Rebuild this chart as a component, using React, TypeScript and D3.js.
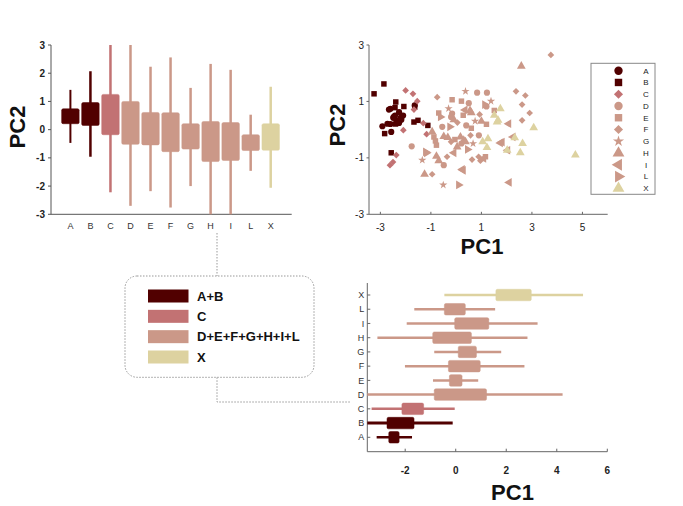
import React from 'react';
import * as d3 from 'd3';

const categories = ['A', 'B', 'C', 'D', 'E', 'F', 'G', 'H', 'I', 'L', 'X'];
const categoryGroup = [0, 0, 1, 2, 2, 2, 2, 2, 2, 2, 3];
const categoryShape = ['circle', 'square', 'diamond', 'circle', 'square', 'diamond', 'star', 'up', 'left', 'right', 'up'];

const groupLabels = ['A+B', 'C', 'D+E+F+G+H+I+L', 'X'];
const groupColors = ['#510000', '#c27273', '#cb9888', '#ddd2a0'];

// PC2 box statistics (vertical boxplot)
const pc2Low = [-0.47, -0.96, -2.22, -2.7, -2.18, -2.76, -2.0, -3.0, -3.0, -1.46, -2.06];
const pc2Q1 = [0.21, 0.15, -0.18, -0.52, -0.54, -0.78, -0.69, -1.13, -1.09, -0.74, -0.73];
const pc2Q3 = [0.74, 0.96, 1.25, 1.0, 0.61, 0.6, 0.21, 0.29, 0.25, -0.18, 0.21];
const pc2High = [1.41, 2.07, 3.0, 3.0, 2.23, 2.56, 1.48, 2.33, 2.12, 0.53, 1.52];

// PC1 box statistics (horizontal boxplot)
const pc1Low = [-3.13, -3.5, -3.33, -3.5, -0.9, -2.01, -0.85, -3.1, -1.94, -1.64, -0.45];
const pc1Q1 = [-2.65, -2.72, -2.13, -0.85, -0.25, -0.29, 0.1, -0.91, -0.04, -0.45, 1.59];
const pc1Q3 = [-2.24, -1.65, -1.27, 1.22, 0.25, 0.97, 0.82, 0.62, 1.31, 0.38, 2.99];
const pc1High = [-1.73, -0.12, -0.04, 4.23, 0.89, 2.72, 1.8, 2.84, 3.24, 1.56, 5.04];

// Scatter points [PC1, PC2] per category
const scatterA = [[-2.92, 0.12], [-2.66, 0.71], [-2.6, 0.74], [-2.72, 0.21], [-2.49, 0.42], [-2.42, 0.5], [-2.26, 0.62], [-2.2, 0.42], [-2.26, 0.24], [-2.57, -0.08], [-2.6, 0.2], [-2.17, 0.35], [-2.1, 0.5], [-1.64, 0.86], [-2.35, 0.33], [-2.47, 0.45]];
const scatterB = [[-3.25, 1.27], [-2.86, 1.62], [-2.39, 0.98], [-2.07, 0.82], [-2.42, 0.78], [-1.64, 0.8], [-1.67, 0.27], [-1.51, 0.33], [-1.12, 0.15], [-2.83, -0.14], [-2.57, -0.82], [-2.4, 0.2]];
const scatterC = [[-2.0, 1.39], [-1.71, 1.27], [-1.54, 1.01], [-1.67, 0.71], [-2.09, -0.02], [-1.3, 0.23], [-1.17, -0.16], [-2.37, -0.9], [-2.62, -1.26], [-2.5, -1.15]];
const scatterD = [[0.83, 1.31], [1.22, 1.31], [1.2, 0.82], [-1.76, -0.59], [-0.16, 0.57], [-0.2, 0.45], [0.5, 0.94], [0.21, -0.49], [-0.49, -1.26], [0.4, 0.15], [0.9, -0.2], [-0.55, 0.1]];
const scatterE = [[-0.69, 0.59], [-0.16, 1.06], [0.21, 1.01], [1.51, 0.68], [1.2, 0.19], [-0.88, -0.26], [-0.82, -0.4], [-0.78, -0.55], [-0.05, -0.35], [0.28, 0.51], [1.16, -0.96], [0.6, 0.05]];
const scatterF = [[-0.75, 1.15], [0.93, 0.54], [2.37, 1.36], [2.74, 1.21], [2.61, 0.89], [2.91, 0.59], [2.61, 0.33], [3.75, 2.65], [-0.2, -0.43], [0.57, -0.2], [-0.36, -0.96], [0.63, -1.06], [0.96, -1.1], [-0.95, -1.58], [0.89, -0.96], [0.05, 0.25]];
const scatterG = [[0.37, 1.36], [1.38, 1.01], [-1.34, -1.08], [-0.51, -1.96], [0.67, -0.49], [-0.3, 0.75], [0.75, 0.3]];
const scatterH = [[2.58, 2.25], [0.55, 0.68], [0.6, 0.6], [-0.09, 0.35], [-0.95, -0.08], [-0.49, -0.24], [-0.33, -0.28], [0.04, -0.61], [0.17, -0.26], [0.3, -0.38], [-0.78, -0.94], [-0.69, -1.1], [-1.25, -1.58], [0.37, -0.43], [1.0, 0.3]];
const scatterI = [[1.75, -0.47], [2.04, -0.73], [-0.09, -0.82], [0.24, -1.41], [0.28, -1.44], [2.1, -1.87], [1.09, -1.02], [1.82, -0.44], [2.25, -0.26], [2.08, 0.21], [0.35, 0.7]];
const scatterL = [[1.13, 0.89], [-1.21, -0.79], [-1.17, -0.82], [0.1, -1.96], [-0.62, 0.45], [0.45, -0.7], [-0.25, 0.1]];
const scatterX = [[1.75, 0.74], [1.51, 0.51], [1.66, 0.33], [1.62, 0.27], [3.07, 0.07], [2.32, -0.29], [1.05, -0.43], [1.26, -0.32], [1.22, -0.63], [2.02, -0.73], [2.63, -0.49], [2.54, -0.82], [4.72, -0.9]];
const scatterData = [scatterA, scatterB, scatterC, scatterD, scatterE, scatterF, scatterG, scatterH, scatterI, scatterL, scatterX];

const pc2Ticks = [-3, -2, -1, 0, 1, 2, 3];
const scatterXTicks = [-3, -1, 1, 3, 5];
const scatterYTicks = [-3, -1, 1, 3];
const pc1Ticks = [-2, 0, 2, 4, 6];

const FONT = '"Liberation Sans", Arial, Helvetica, sans-serif';

function symbolPath(shape: string, size: number): string {
  let type: any = d3.symbolCircle;
  let s = size;
  if (shape === 'square') type = d3.symbolSquare;
  else if (shape === 'diamond') { type = d3.symbolSquare; s = size * 0.75; }
  else if (shape === 'star') { type = d3.symbolStar; s = size * 0.7; }
  else if (shape === 'up' || shape === 'left' || shape === 'right') { type = d3.symbolTriangle; s = size * 1.1; }
  return d3.symbol().type(type).size(s)() as string;
}
function shapeRotation(shape: string): number {
  if (shape === 'left') return -90;
  if (shape === 'right') return 90;
  if (shape === 'diamond') return 45;
  return 0;
}

export default function App() {
  // Top-left vertical boxplot
  const bxScale = d3.scalePoint<string>().domain(categories).range([70.4, 270.7]);
  const byScale = d3.scaleLinear().domain([-3, 3]).range([214.3, 45]);
  const bLeft = 51, bRight = 291.7;

  // Scatter
  const sx = d3.scaleLinear().domain([-3.45, 6.0]).range([369, 607.7]);
  const sy = d3.scaleLinear().domain([-3, 3]).range([214.3, 45]);

  // Bottom horizontal boxplot
  const hx = d3.scaleLinear().domain([-3.5, 6]).range([367.3, 607.3]);
  const hy = d3.scalePoint<string>().domain(categories).range([437.3, 295]);
  const hBottom = 451.7, hTop = 283;

  const legendRowY = d3.scalePoint<string>().domain(categories).range([70.7, 188.3]);
  const groupRowY = d3.scalePoint<string>().domain(groupLabels).range([296, 357]);

  const textStyle = { opacity: 0.999 } as React.CSSProperties;

  return (
    <svg width={683} height={506} style={{ position: 'absolute', left: 0, top: 0, background: '#fff' }} fontFamily={FONT}>
      <rect x={0} y={0} width={683} height={506} fill="#fff" />

      {/* ===== Top-left boxplot ===== */}
      <g>
        <line x1={bLeft} x2={bLeft} y1={byScale(-3)} y2={byScale(3)} stroke="#555" strokeWidth={1} />
        <line x1={bLeft} x2={bRight} y1={byScale(-3)} y2={byScale(-3)} stroke="#555" strokeWidth={1} />
        {pc2Ticks.map((t) => (
          <g key={t}>
            <line x1={bLeft - 3} x2={bLeft} y1={byScale(t)} y2={byScale(t)} stroke="#555" />
            <text x={bLeft - 6} y={byScale(t)} dy="0.35em" textAnchor="end" fontSize={10} fontWeight="bold" fill="#222">{t}</text>
          </g>
        ))}
        {categories.map((c, i) => {
          const x = bxScale(c)!;
          const col = groupColors[categoryGroup[i]];
          const w = 17.5;
          return (
            <g key={c}>
              <line x1={x} x2={x} y1={byScale(pc2Low[i])} y2={byScale(pc2High[i])} stroke={col} strokeWidth={i === 0 ? 2 : 2.5} />
              <rect x={x - w / 2} y={byScale(pc2Q3[i])} width={w} height={byScale(pc2Q1[i]) - byScale(pc2Q3[i])} rx={1.5} fill={col} stroke={col} strokeWidth={0.5} />
              <text x={x} y={226} dy="0.35em" textAnchor="middle" fontSize={9} fill="#333" style={textStyle}>{c}</text>
            </g>
          );
        })}
        <text transform="translate(25,127) rotate(-90)" textAnchor="middle" fontSize={22} fontWeight="bold" fill="#111">PC2</text>
      </g>

      {/* ===== Scatter ===== */}
      <g>
        <line x1={sx(-3.45)} x2={sx(-3.45)} y1={sy(-3)} y2={sy(3)} stroke="#666" strokeWidth={1} />
        <line x1={sx(-3.45)} x2={sx(6)} y1={sy(-3)} y2={sy(-3)} stroke="#666" strokeWidth={1} />
        {scatterYTicks.map((t) => (
          <g key={t}>
            <line x1={sx(-3.45) - 2.5} x2={sx(-3.45)} y1={sy(t)} y2={sy(t)} stroke="#666" />
            <text x={sx(-3.45) - 5} y={sy(t)} dy="0.35em" textAnchor="end" fontSize={10} fill="#222">{t}</text>
          </g>
        ))}
        {scatterXTicks.map((t) => (
          <g key={t}>
            <line x1={sx(t)} x2={sx(t)} y1={sy(-3)} y2={sy(-3) - 2.5} stroke="#666" />
            <text x={sx(t)} y={227} dy="0.35em" textAnchor="middle" fontSize={10} fill="#222">{t}</text>
          </g>
        ))}
        {scatterData.map((pts, i) => (
          <g key={categories[i]}>
            {pts.map((p, j) => (
              <path key={j} d={symbolPath(categoryShape[i], 30)} transform={`translate(${sx(p[0])},${sy(p[1])}) rotate(${shapeRotation(categoryShape[i])})`} fill={groupColors[categoryGroup[i]]} />
            ))}
          </g>
        ))}
        <text x={482} y={254} textAnchor="middle" fontSize={22} fontWeight="bold" fill="#111">PC1</text>
        <text transform="translate(345,125) rotate(-90)" textAnchor="middle" fontSize={22} fontWeight="bold" fill="#111">PC2</text>

        {/* legend */}
        <rect x={591} y={63.3} width={64} height={131} fill="#fff" stroke="#888" strokeWidth={1} />
        {categories.map((c, i) => {
          const y = legendRowY(c)!;
          return (
            <g key={c}>
              <path d={symbolPath(categoryShape[i], 55)} transform={`translate(618.5,${y}) rotate(${shapeRotation(categoryShape[i])})`} fill={groupColors[categoryGroup[i]]} />
              <text x={646} y={y} dy="0.35em" textAnchor="middle" fontSize={8} fill="#222" style={textStyle}>{c}</text>
            </g>
          );
        })}
      </g>

      {/* ===== Connectors ===== */}
      <g stroke="#999" strokeWidth={1} strokeDasharray="1.5,1.5" fill="none">
        <line x1={217} x2={217} y1={233} y2={276} />
        <polyline points="217,377.3 217,402 350,402" />
      </g>

      {/* ===== Group legend ===== */}
      <g>
        <rect x={125} y={276} width={189} height={101.3} rx={12} fill="#fff" stroke="#999" strokeWidth={1} strokeDasharray="1.5,1.5" />
        {groupLabels.map((g, i) => {
          const y = groupRowY(g)!;
          return (
            <g key={g}>
              <rect x={148} y={y - 6.5} width={40.5} height={13} fill={groupColors[i]} />
              <text x={197} y={y} dy="0.36em" fontSize={13} fontWeight="bold" fill="#111">{g}</text>
            </g>
          );
        })}
      </g>

      {/* ===== Bottom horizontal boxplot ===== */}
      <g>
        <line x1={hx(-3.5)} x2={hx(-3.5)} y1={hTop} y2={hBottom} stroke="#666" strokeWidth={1} />
        <line x1={hx(-3.5)} x2={hx(6)} y1={hBottom} y2={hBottom} stroke="#666" strokeWidth={1} />
        {pc1Ticks.map((t) => (
          <g key={t}>
            <line x1={hx(t)} x2={hx(t)} y1={hBottom} y2={hBottom - 3} stroke="#666" />
            <text x={hx(t)} y={470} dy="0.35em" textAnchor="middle" fontSize={10} fontWeight="bold" fill="#222">{t}</text>
          </g>
        ))}
        {categories.map((c, i) => {
          const y = hy(c)!;
          const col = groupColors[categoryGroup[i]];
          const h = 11.5;
          return (
            <g key={c}>
              <line x1={hx(-3.5)} x2={hx(-3.5) + 3} y1={y} y2={y} stroke="#666" />
              <text x={hx(-3.5) - 3} y={y} dy="0.35em" textAnchor="end" fontSize={9} fill="#333" style={textStyle}>{c}</text>
              <line x1={hx(pc1Low[i])} x2={hx(pc1High[i])} y1={y} y2={y} stroke={col} strokeWidth={i === 1 ? 3 : 2.5} />
              <rect x={hx(pc1Q1[i])} y={y - h / 2} width={hx(pc1Q3[i]) - hx(pc1Q1[i])} height={h} rx={1.5} fill={col} stroke={col} strokeWidth={0.5} />
            </g>
          );
        })}
        <text x={512.5} y={500} textAnchor="middle" fontSize={22} fontWeight="bold" fill="#111">PC1</text>
      </g>
    </svg>
  );
}
